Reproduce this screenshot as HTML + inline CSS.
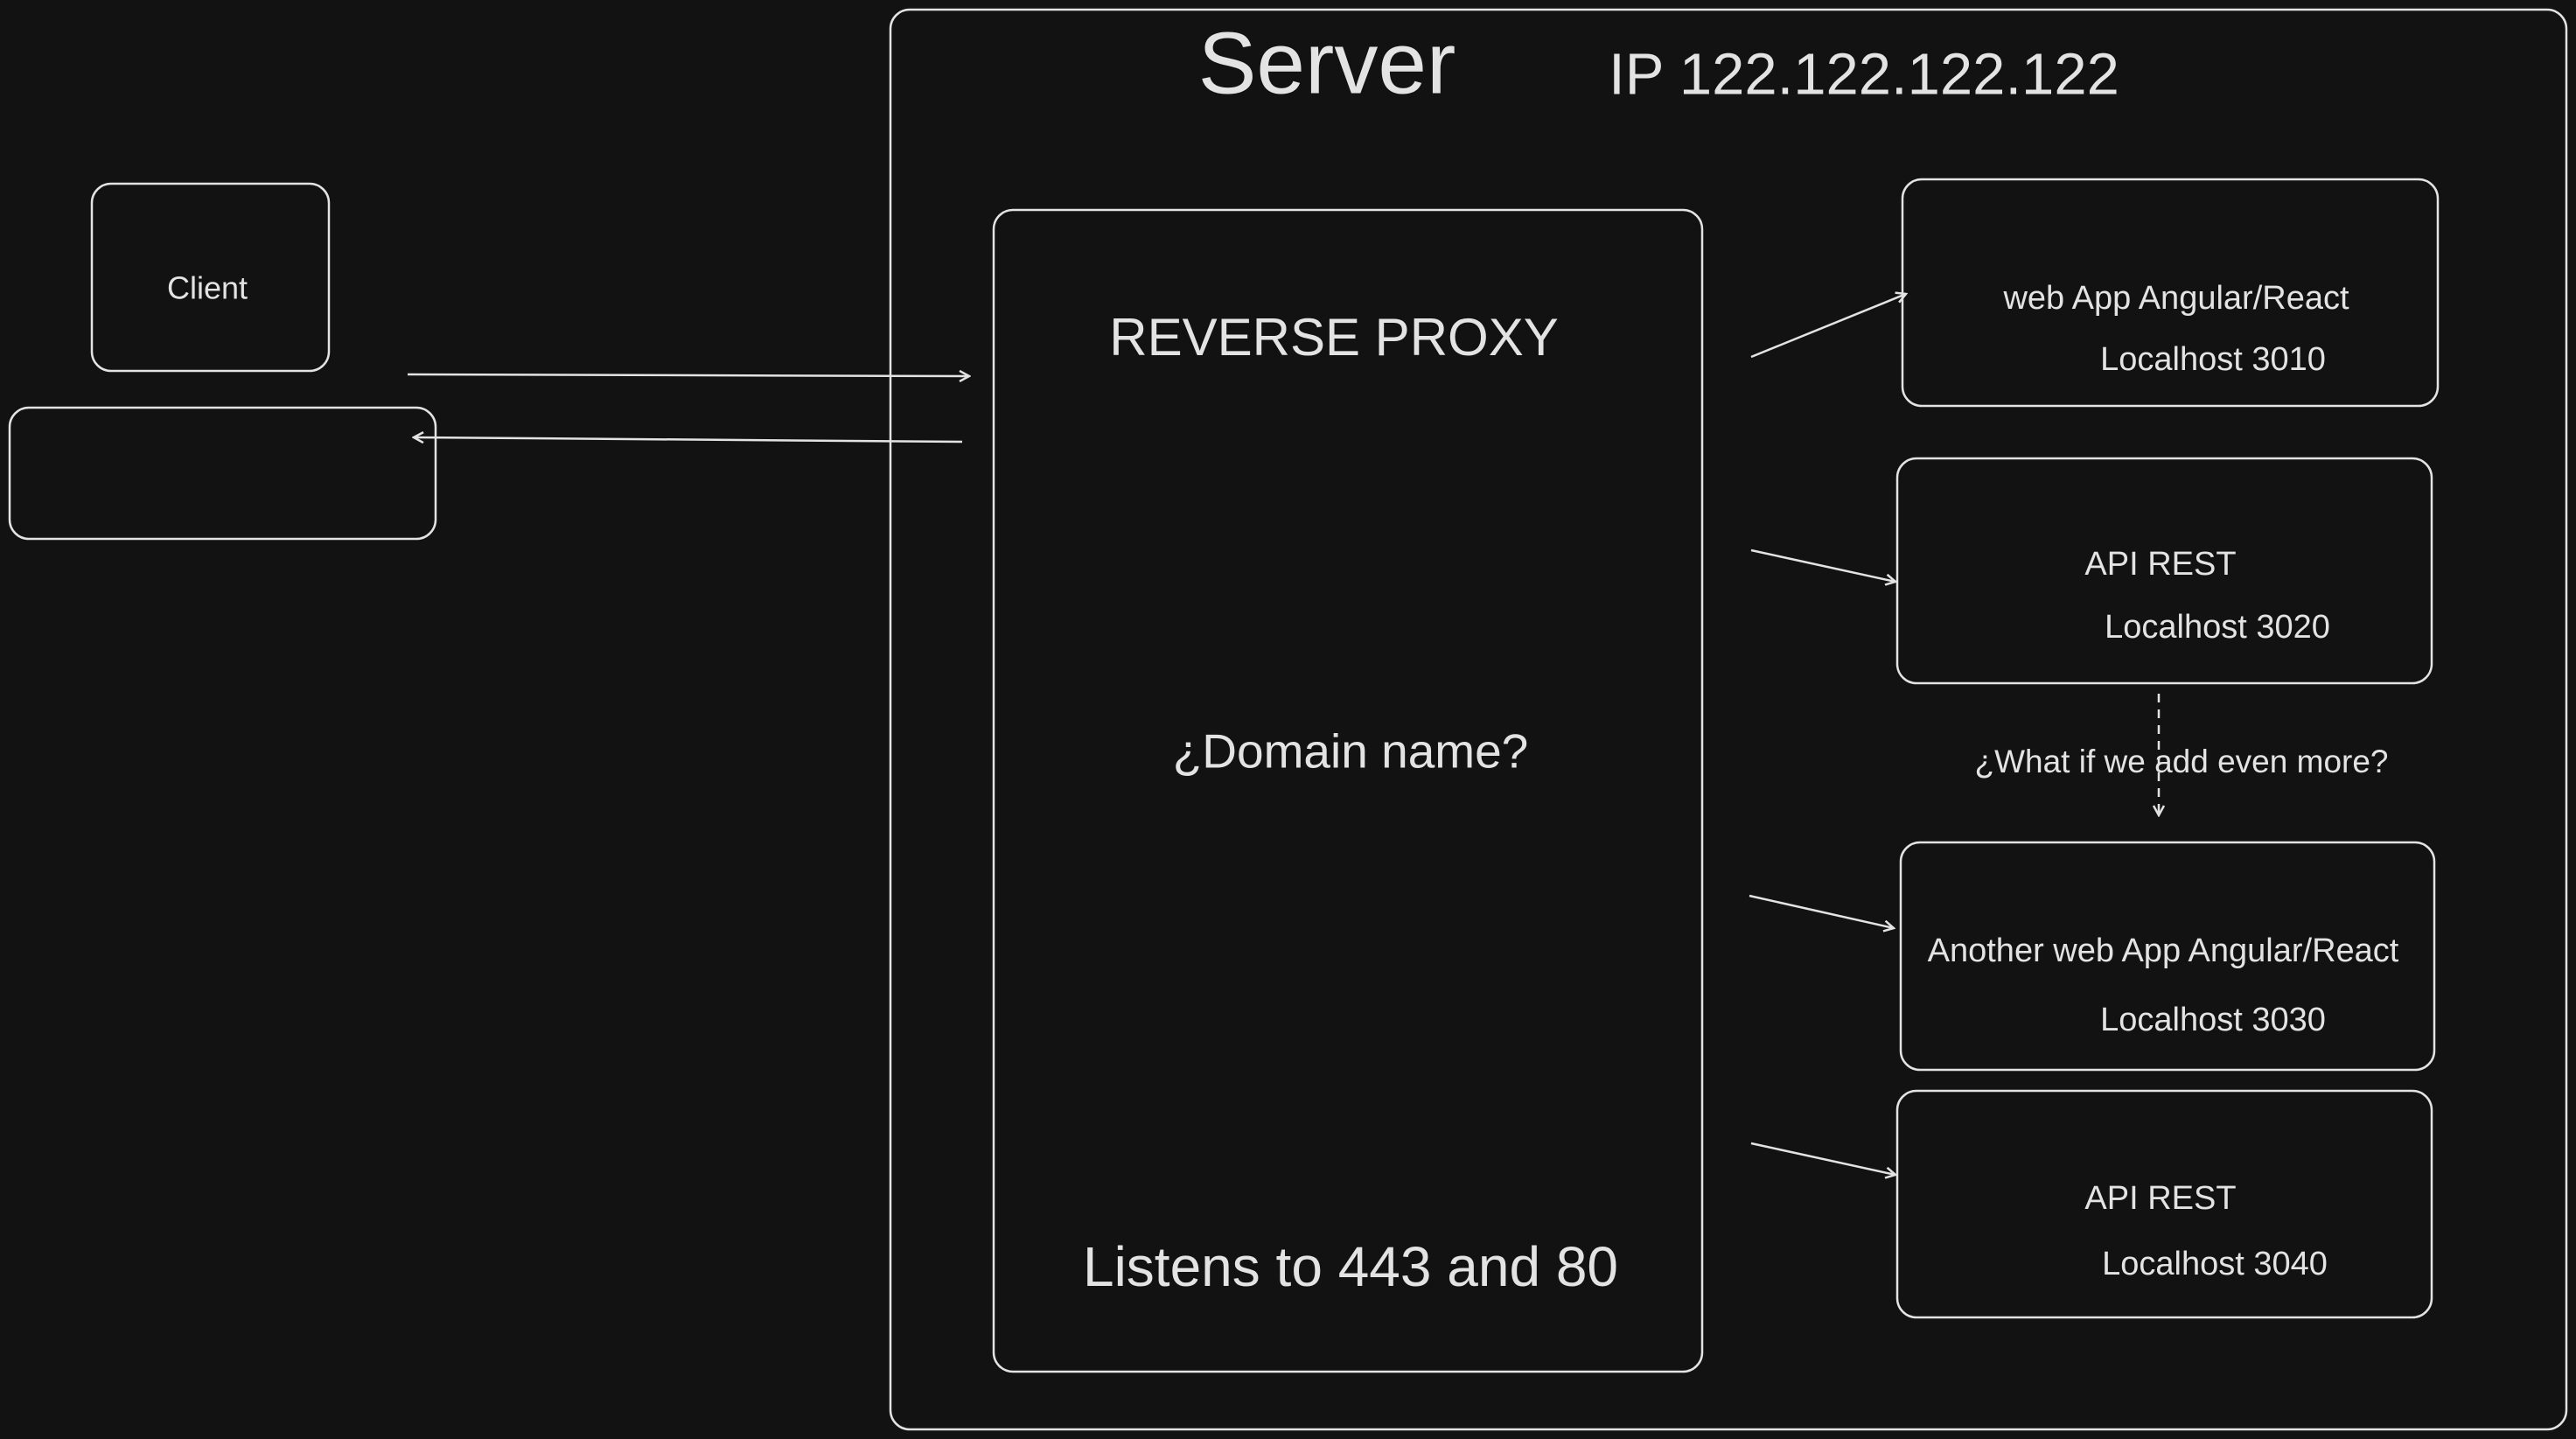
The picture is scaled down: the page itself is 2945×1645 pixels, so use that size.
<!DOCTYPE html>
<html><head><meta charset="utf-8"><style>
html,body{margin:0;padding:0;background:#121212;}
svg{display:block;}
text{font-family:"Liberation Sans",sans-serif;fill:#e3e3e3;text-anchor:middle;dominant-baseline:middle;}
</style></head><body>
<svg width="2945" height="1645" viewBox="0 0 2945 1645" xmlns="http://www.w3.org/2000/svg">
<defs>
<marker id="a" markerWidth="14" markerHeight="14" refX="12" refY="7" orient="auto" markerUnits="userSpaceOnUse">
<path d="M1,1 L12,7 L1,13" fill="none" stroke="#e3e3e3" stroke-width="2.5"/>
</marker>
</defs>
<rect width="2945" height="1645" fill="#121212"/>
<g fill="none" stroke="#e3e3e3" stroke-width="2.5">
<rect x="1018" y="11" width="1916" height="1623" rx="22"/>
<rect x="1136" y="240" width="810" height="1328" rx="22"/>
<rect x="105" y="210" width="271" height="214" rx="22"/>
<rect x="11" y="466" width="487" height="150" rx="22"/>
<rect x="2175" y="205" width="612" height="259" rx="22"/>
<rect x="2169" y="524" width="611" height="257" rx="22"/>
<rect x="2173" y="963" width="610" height="260" rx="22"/>
<rect x="2169" y="1247" width="611" height="259" rx="22"/>
<line x1="466" y1="428" x2="1108" y2="430" marker-end="url(#a)"/>
<line x1="1100" y1="505" x2="473" y2="500" marker-end="url(#a)"/>
<line x1="2002" y1="408" x2="2179" y2="336" marker-end="url(#a)"/>
<line x1="2002" y1="629" x2="2167" y2="665" marker-end="url(#a)"/>
<line x1="2000" y1="1024" x2="2165" y2="1061" marker-end="url(#a)"/>
<line x1="2002" y1="1307" x2="2167" y2="1343" marker-end="url(#a)"/>
<line x1="2468" y1="793" x2="2468" y2="932" stroke-dasharray="10 8" marker-end="url(#a)"/>
</g>
<g transform="translate(0,5)">
<text x="1517" y="75" font-size="100">Server</text>
<text x="2131" y="85" font-size="67">IP 122.122.122.122</text>
<text x="1525" y="385" font-size="60">REVERSE PROXY</text>
<text x="1544" y="858" font-size="55">¿Domain name?</text>
<text x="1544" y="1448" font-size="64">Listens to 443 and 80</text>
<text x="237" y="327" font-size="36">Client</text>
<text x="2488" y="338" font-size="38">web App Angular/React</text>
<text x="2530" y="408" font-size="38">Localhost 3010</text>
<text x="2470" y="642" font-size="38">API REST</text>
<text x="2535" y="714" font-size="38">Localhost 3020</text>
<text x="2494" y="868" font-size="37">¿What if we add even more?</text>
<text x="2473" y="1084" font-size="38">Another web App Angular/React</text>
<text x="2530" y="1163" font-size="38">Localhost 3030</text>
<text x="2470" y="1367" font-size="38">API REST</text>
<text x="2532" y="1442" font-size="38">Localhost 3040</text>
</g>
</svg>
</body></html>
